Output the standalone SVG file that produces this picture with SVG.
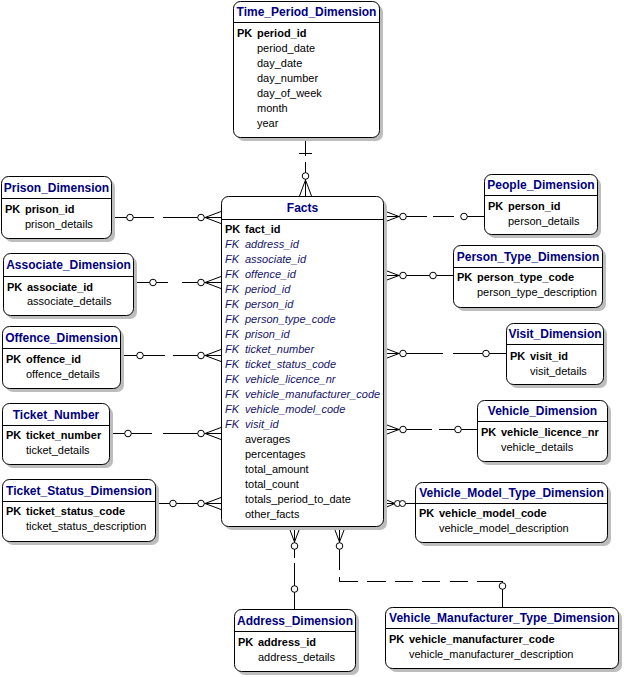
<svg xmlns="http://www.w3.org/2000/svg" width="624" height="677" viewBox="0 0 624 677">
<style>
text{font-family:"Liberation Sans",Arial,sans-serif}
.sh{fill:#bdbdbd;stroke:none}
.bx{fill:#fff;stroke:#000;stroke-width:1}
.hl{stroke:#000;stroke-width:1}
.t{font-size:12px;font-weight:bold;fill:#000080;text-anchor:middle}
.pk{font-size:11px;font-weight:bold;fill:#000}
.fk{font-size:11px;font-style:italic;fill:#14146a}
.a{font-size:11px;fill:#000}
.ln{fill:none;stroke:#000;stroke-width:1}
.c{fill:#fff;stroke:#000;stroke-width:1}
</style>
<rect width="624" height="677" fill="#fff"/>

<g id="connectors">
  <!-- Time_Period -> Facts -->
  <path class="ln" d="M305.5 137V156M305.5 162V180M299 153.5H312M305.5 180L299.5 196M305.5 180L311.5 196M305.5 180V196"/>
  <circle class="c" cx="305.5" cy="176" r="3.3"/>
  <!-- Prison -->
  <path class="ln" d="M111 217.5H154M163 217.5H221M205 217.5L221 211.5M205 217.5L221 223.5"/>
  <circle class="c" cx="130" cy="217.5" r="3.3"/><circle class="c" cx="201" cy="217.5" r="3.3"/>
  <!-- Associate -->
  <path class="ln" d="M133 282.5H168M182 282.5H221M205 282.5L221 276.5M205 282.5L221 288.5"/>
  <circle class="c" cx="153" cy="282.5" r="3.3"/><circle class="c" cx="201" cy="282.5" r="3.3"/>
  <!-- Offence -->
  <path class="ln" d="M120 355.5H165M173 355.5H221M205 355.5L221 349.5M205 355.5L221 361.5"/>
  <circle class="c" cx="140" cy="355.5" r="3.3"/><circle class="c" cx="201" cy="355.5" r="3.3"/>
  <!-- Ticket_Number -->
  <path class="ln" d="M109 433.5H152M163 433.5H221M205 433.5L221 427.5M205 433.5L221 439.5"/>
  <circle class="c" cx="128" cy="433.5" r="3.3"/><circle class="c" cx="201" cy="433.5" r="3.3"/>
  <!-- Ticket_Status -->
  <path class="ln" d="M155 503.5H221M205 503.5L221 497.5M205 503.5L221 509.5"/>
  <circle class="c" cx="173" cy="503.5" r="3.3"/><circle class="c" cx="201" cy="503.5" r="3.3"/>
  <!-- People -->
  <path class="ln" d="M383 216.5H427M433 216.5H454M461 216.5H484M399 216.5L383 210.5M399 216.5L383 222.5"/>
  <circle class="c" cx="403" cy="216.5" r="3.3"/><circle class="c" cx="464" cy="216.5" r="3.3"/>
  <!-- Person_Type -->
  <path class="ln" d="M383 275.5H453M399 275.5L383 269.5M399 275.5L383 281.5"/>
  <circle class="c" cx="403" cy="275.5" r="3.3"/><circle class="c" cx="433" cy="275.5" r="3.3"/>
  <!-- Visit -->
  <path class="ln" d="M383 353.5H443M453 353.5H506M399 353.5L383 347.5M399 353.5L383 359.5"/>
  <circle class="c" cx="403" cy="353.5" r="3.3"/><circle class="c" cx="486" cy="353.5" r="3.3"/>
  <!-- Vehicle -->
  <path class="ln" d="M383 429.5H432M439 429.5H477M399 429.5L383 423.5M399 429.5L383 435.5"/>
  <circle class="c" cx="403" cy="429.5" r="3.3"/><circle class="c" cx="458" cy="429.5" r="3.3"/>
  <!-- Vehicle_Model -->
  <path class="ln" d="M383 503.5H415M395 503.5L383 498.5M395 503.5L383 508.5"/>
  <circle class="c" cx="397.5" cy="503.5" r="3"/><circle class="c" cx="402.5" cy="503.5" r="3"/>
  <!-- Address -->
  <path class="ln" d="M294.5 526V558M294.5 563V609M294.5 542L288.5 526M294.5 542L300.5 526"/>
  <circle class="c" cx="294.5" cy="546" r="3.3"/><circle class="c" cx="294.5" cy="589" r="3.3"/>
  <!-- Vehicle_Manufacturer -->
  <path class="ln" d="M339.5 526V570M339.5 577V581.5M339.5 542L333.5 526M339.5 542L345.5 526M339 581.5H358M367 581.5H386M395 581.5H413M422 581.5H440M450 581.5H468M477 581.5H502.5M502.5 581V607"/>
  <circle class="c" cx="339.5" cy="546" r="3.3"/><circle class="c" cx="502.5" cy="586" r="3.3"/>
</g>

<g id="Time_Period_Dimension">
  <rect class="sh" x="237" y="5" width="146" height="136" rx="7"/>
  <rect class="bx" x="233.5" y="1.5" width="146" height="136" rx="7"/>
  <line class="hl" x1="233.5" y1="22.5" x2="379.5" y2="22.5"/>
  <text class="t" x="306.5" y="16">Time_Period_Dimension</text>
  <text class="pk" x="237" y="37">PK</text><text class="pk" x="257" y="37">period_id</text>
  <text class="a" x="257" y="52">period_date</text>
  <text class="a" x="257" y="67">day_date</text>
  <text class="a" x="257" y="82">day_number</text>
  <text class="a" x="257" y="97">day_of_week</text>
  <text class="a" x="257" y="112">month</text>
  <text class="a" x="257" y="127">year</text>
</g>

<g id="Facts">
  <rect class="sh" x="225" y="200" width="162" height="330" rx="7"/>
  <rect class="bx" x="221.5" y="196.5" width="162" height="330" rx="7"/>
  <line class="hl" x1="221.5" y1="219.5" x2="383.5" y2="219.5"/>
  <text class="t" x="302.5" y="212">Facts</text>
  <text class="pk" x="225" y="233">PK</text><text class="pk" x="245" y="233">fact_id</text>
  <text class="fk" x="225" y="248">FK</text><text class="fk" x="245" y="248">address_id</text>
  <text class="fk" x="225" y="263">FK</text><text class="fk" x="245" y="263">associate_id</text>
  <text class="fk" x="225" y="278">FK</text><text class="fk" x="245" y="278">offence_id</text>
  <text class="fk" x="225" y="293">FK</text><text class="fk" x="245" y="293">period_id</text>
  <text class="fk" x="225" y="308">FK</text><text class="fk" x="245" y="308">person_id</text>
  <text class="fk" x="225" y="323">FK</text><text class="fk" x="245" y="323">person_type_code</text>
  <text class="fk" x="225" y="338">FK</text><text class="fk" x="245" y="338">prison_id</text>
  <text class="fk" x="225" y="353">FK</text><text class="fk" x="245" y="353">ticket_number</text>
  <text class="fk" x="225" y="368">FK</text><text class="fk" x="245" y="368">ticket_status_code</text>
  <text class="fk" x="225" y="383">FK</text><text class="fk" x="245" y="383">vehicle_licence_nr</text>
  <text class="fk" x="225" y="398">FK</text><text class="fk" x="245" y="398">vehicle_manufacturer_code</text>
  <text class="fk" x="225" y="413">FK</text><text class="fk" x="245" y="413">vehicle_model_code</text>
  <text class="fk" x="225" y="428">FK</text><text class="fk" x="245" y="428">visit_id</text>
  <text class="a" x="245" y="443">averages</text>
  <text class="a" x="245" y="458">percentages</text>
  <text class="a" x="245" y="473">total_amount</text>
  <text class="a" x="245" y="488">total_count</text>
  <text class="a" x="245" y="503">totals_period_to_date</text>
  <text class="a" x="245" y="518">other_facts</text>
</g>

<g id="Prison_Dimension">
  <rect class="sh" x="5" y="180" width="110" height="62" rx="7"/>
  <rect class="bx" x="1.5" y="176.5" width="110" height="62" rx="7"/>
  <line class="hl" x1="1.5" y1="198.5" x2="111.5" y2="198.5"/>
  <text class="t" x="56.5" y="192">Prison_Dimension</text>
  <text class="pk" x="5" y="213">PK</text><text class="pk" x="25" y="213">prison_id</text>
  <text class="a" x="25" y="228">prison_details</text>
</g>

<g id="Associate_Dimension">
  <rect class="sh" x="7" y="257" width="130" height="62" rx="7"/>
  <rect class="bx" x="3.5" y="253.5" width="130" height="62" rx="7"/>
  <line class="hl" x1="3.5" y1="276.5" x2="133.5" y2="276.5"/>
  <text class="t" x="68.5" y="269">Associate_Dimension</text>
  <text class="pk" x="7" y="291">PK</text><text class="pk" x="27" y="291">associate_id</text>
  <text class="a" x="27" y="305">associate_details</text>
</g>

<g id="Offence_Dimension">
  <rect class="sh" x="6" y="330" width="118" height="62" rx="7"/>
  <rect class="bx" x="2.5" y="326.5" width="118" height="62" rx="7"/>
  <line class="hl" x1="2.5" y1="348.5" x2="120.5" y2="348.5"/>
  <text class="t" x="61.5" y="342">Offence_Dimension</text>
  <text class="pk" x="6" y="363">PK</text><text class="pk" x="26" y="363">offence_id</text>
  <text class="a" x="26" y="378">offence_details</text>
</g>

<g id="Ticket_Number">
  <rect class="sh" x="6" y="407" width="107" height="61" rx="7"/>
  <rect class="bx" x="2.5" y="403.5" width="107" height="61" rx="7"/>
  <line class="hl" x1="2.5" y1="425.5" x2="109.5" y2="425.5"/>
  <text class="t" x="56" y="419">Ticket_Number</text>
  <text class="pk" x="6" y="439">PK</text><text class="pk" x="26" y="439">ticket_number</text>
  <text class="a" x="26" y="454">ticket_details</text>
</g>

<g id="Ticket_Status_Dimension">
  <rect class="sh" x="6" y="483" width="153" height="62" rx="7"/>
  <rect class="bx" x="2.5" y="479.5" width="153" height="62" rx="7"/>
  <line class="hl" x1="2.5" y1="501.5" x2="155.5" y2="501.5"/>
  <text class="t" x="79" y="495">Ticket_Status_Dimension</text>
  <text class="pk" x="6" y="515">PK</text><text class="pk" x="26" y="515">ticket_status_code</text>
  <text class="a" x="26" y="530">ticket_status_description</text>
</g>

<g id="People_Dimension">
  <rect class="sh" x="488" y="178" width="113" height="60" rx="7"/>
  <rect class="bx" x="484.5" y="174.5" width="113" height="60" rx="7"/>
  <line class="hl" x1="484.5" y1="195.5" x2="597.5" y2="195.5"/>
  <text class="t" x="541" y="189">People_Dimension</text>
  <text class="pk" x="488" y="210">PK</text><text class="pk" x="508" y="210">person_id</text>
  <text class="a" x="508" y="225">person_details</text>
</g>

<g id="Person_Type_Dimension">
  <rect class="sh" x="457" y="249" width="149" height="62" rx="7"/>
  <rect class="bx" x="453.5" y="245.5" width="149" height="62" rx="7"/>
  <line class="hl" x1="453.5" y1="267.5" x2="602.5" y2="267.5"/>
  <text class="t" x="528" y="261">Person_Type_Dimension</text>
  <text class="pk" x="457" y="281">PK</text><text class="pk" x="477" y="281">person_type_code</text>
  <text class="a" x="477" y="296">person_type_description</text>
</g>

<g id="Visit_Dimension">
  <rect class="sh" x="510" y="327" width="97" height="61" rx="7"/>
  <rect class="bx" x="506.5" y="323.5" width="97" height="61" rx="7"/>
  <line class="hl" x1="506.5" y1="344.5" x2="603.5" y2="344.5"/>
  <text class="t" x="555" y="338">Visit_Dimension</text>
  <text class="pk" x="510" y="360">PK</text><text class="pk" x="530" y="360">visit_id</text>
  <text class="a" x="530" y="375">visit_details</text>
</g>

<g id="Vehicle_Dimension">
  <rect class="sh" x="481" y="404" width="130" height="61" rx="7"/>
  <rect class="bx" x="477.5" y="400.5" width="130" height="61" rx="7"/>
  <line class="hl" x1="477.5" y1="421.5" x2="607.5" y2="421.5"/>
  <text class="t" x="542.5" y="415">Vehicle_Dimension</text>
  <text class="pk" x="481" y="436">PK</text><text class="pk" x="501" y="436">vehicle_licence_nr</text>
  <text class="a" x="501" y="451">vehicle_details</text>
</g>

<g id="Vehicle_Model_Type_Dimension">
  <rect class="sh" x="419" y="486" width="192" height="60" rx="7"/>
  <rect class="bx" x="415.5" y="482.5" width="192" height="60" rx="7"/>
  <line class="hl" x1="415.5" y1="503.5" x2="607.5" y2="503.5"/>
  <text class="t" x="511.5" y="497">Vehicle_Model_Type_Dimension</text>
  <text class="pk" x="419" y="517">PK</text><text class="pk" x="439" y="517">vehicle_model_code</text>
  <text class="a" x="439" y="532">vehicle_model_description</text>
</g>

<g id="Address_Dimension">
  <rect class="sh" x="238" y="613" width="121" height="62" rx="7"/>
  <rect class="bx" x="234.5" y="609.5" width="121" height="62" rx="7"/>
  <line class="hl" x1="234.5" y1="631.5" x2="355.5" y2="631.5"/>
  <text class="t" x="295" y="625">Address_Dimension</text>
  <text class="pk" x="238" y="646">PK</text><text class="pk" x="258" y="646">address_id</text>
  <text class="a" x="258" y="661">address_details</text>
</g>

<g id="Vehicle_Manufacturer_Type_Dimension">
  <rect class="sh" x="389" y="611" width="233" height="61" rx="7"/>
  <rect class="bx" x="385.5" y="607.5" width="233" height="61" rx="7"/>
  <line class="hl" x1="385.5" y1="628.5" x2="618.5" y2="628.5"/>
  <text class="t" x="502" y="622">Vehicle_Manufacturer_Type_Dimension</text>
  <text class="pk" x="389" y="643">PK</text><text class="pk" x="409" y="643">vehicle_manufacturer_code</text>
  <text class="a" x="409" y="658">vehicle_manufacturer_description</text>
</g>
</svg>
